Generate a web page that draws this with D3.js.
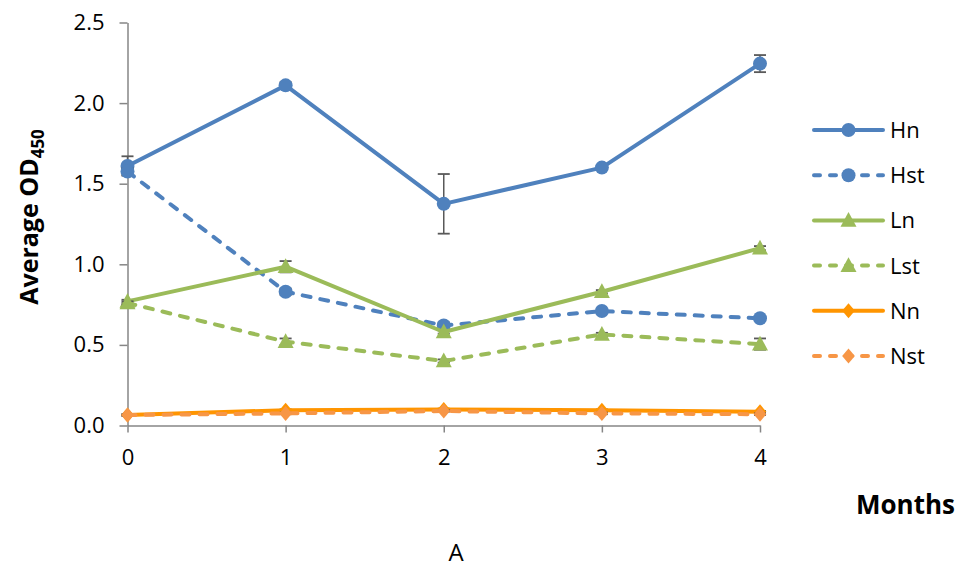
<!DOCTYPE html>
<html><head><meta charset="utf-8">
<script src="https://cdn.jsdelivr.net/npm/d3@7"></script>
<style>body{margin:0;background:#fff}svg{display:block}text{font-family:"Open Sans",Lato,sans-serif}</style>
</head><body>
<svg id="c" width="961" height="581"></svg>
<script>
const months = [0, 1, 2, 3, 4];
const yTicks = [0.0, 0.5, 1.0, 1.5, 2.0, 2.5];
const seriesNames = ["Hn", "Hst", "Ln", "Lst", "Nn", "Nst"];
const Hn  = [1.61, 2.11, 1.375, 1.60, 2.245];
const Hst = [1.575, 0.83, 0.62, 0.71, 0.665];
const Ln  = [0.77, 0.985, 0.58, 0.83, 1.10];
const Lst = [0.76, 0.52, 0.40, 0.565, 0.505];
const Nn  = [0.065, 0.095, 0.10, 0.095, 0.085];
const Nst = [0.065, 0.075, 0.09, 0.075, 0.07];
const HnErr  = [0.06, 0.02, 0.185, 0.01, 0.053];
const HstErr = [0.02, 0.02, 0.02, 0.01, 0.01];
const LnErr  = [0.01, 0.035, 0.01, 0.01, 0.013];
const LstErr = [0.01, 0.02, 0.01, 0.01, 0.035];
const NnErr  = [0.005, 0.005, 0.005, 0.005, 0.005];
const NstErr = [0.005, 0.005, 0.005, 0.005, 0.005];

const styles = {
  Hn:  {color:"#4F81BD", dash:null, marker:"circle"},
  Hst: {color:"#4F81BD", dash:"8,10", marker:"circle"},
  Ln:  {color:"#9BBB59", dash:null, marker:"triangle"},
  Lst: {color:"#9BBB59", dash:"8,10", marker:"triangle"},
  Nn:  {color:"#FF9500", dash:null, marker:"diamond"},
  Nst: {color:"#F79646", dash:"8,10", marker:"diamond"}
};
const values = {Hn, Hst, Ln, Lst, Nn, Nst};
const errs = {Hn:HnErr, Hst:HstErr, Ln:LnErr, Lst:LstErr, Nn:NnErr, Nst:NstErr};

const svg = d3.select("#c");
const x = d3.scaleLinear().domain([0, 4]).range([127.5, 760]);
const y = d3.scaleLinear().domain([0, 2.5]).range([425.5, 22.5]);
const axisColor = "#868686";

// y axis
const ya = svg.append("g").attr("transform", `translate(${x(0)},0)`)
  .call(d3.axisLeft(y).tickValues(yTicks).tickFormat(d3.format(".1f")).tickSize(8).tickSizeOuter(0));
ya.select(".domain").attr("stroke", axisColor).attr("stroke-width", 1.5);
ya.selectAll(".tick line").attr("stroke", axisColor).attr("stroke-width", 1.5);
ya.selectAll(".tick text").attr("font-size", 22).attr("fill", "#000").attr("x", -23).attr("font-family", "Open Sans");

// x axis
const xa = svg.append("g").attr("transform", `translate(0,${y(0)})`)
  .call(d3.axisBottom(x).tickValues(months).tickFormat(d3.format("d")).tickSize(7).tickSizeOuter(0));
xa.select(".domain").attr("stroke", axisColor).attr("stroke-width", 1.5);
xa.selectAll(".tick line").attr("stroke", axisColor).attr("stroke-width", 1.5);
xa.selectAll(".tick text").attr("font-size", 22).attr("fill", "#000").attr("y", 24).attr("font-family", "Open Sans");

function marker(g, type, cx, cy, color, s) {
  if (type === "circle") {
    g.append("circle").attr("cx", cx).attr("cy", cy).attr("r", 7*s).attr("fill", color);
  } else if (type === "triangle") {
    const h = 14*s, w = 16*s;
    g.append("path").attr("d", `M${cx},${cy-h*0.6}L${cx+w/2},${cy+h*0.45}L${cx-w/2},${cy+h*0.45}Z`).attr("fill", color);
  } else {
    const r = 7.5*s;
    g.append("path").attr("d", `M${cx},${cy-r}L${cx+r*0.85},${cy}L${cx},${cy+r}L${cx-r*0.85},${cy}Z`).attr("fill", color);
  }
}

const line = d3.line().x((d,i) => x(months[i])).y(d => y(d));
seriesNames.forEach(name => {
  const st = styles[name], vals = values[name], er = errs[name];
  const g = svg.append("g");
  vals.forEach((v,i) => {
    const cx = x(months[i]);
    const y1 = y(v+er[i]), y2 = y(v-er[i]);
    g.append("line").attr("x1",cx).attr("x2",cx).attr("y1",y1).attr("y2",y2).attr("stroke","#595959").attr("stroke-width",1.5);
    [y1,y2].forEach(yy => g.append("line").attr("x1",cx-6).attr("x2",cx+6).attr("y1",yy).attr("y2",yy).attr("stroke","#595959").attr("stroke-width",1.8));
  });
  g.append("path").attr("d", line(vals)).attr("fill","none").attr("stroke", st.color)
    .attr("stroke-width", 4).attr("stroke-linecap","round").attr("stroke-linejoin","round")
    .attr("stroke-dasharray", st.dash);
  vals.forEach((v,i) => marker(g, st.marker, x(months[i]), y(v), st.color, 1));
});

// legend
const lg = svg.append("g");
seriesNames.forEach((name, i) => {
  const st = styles[name];
  const ly = 130 + i*45.2;
  lg.append("line").attr("x1", 814).attr("x2", 883).attr("y1", ly).attr("y2", ly)
    .attr("stroke", st.color).attr("stroke-width", 4).attr("stroke-linecap","round")
    .attr("stroke-dasharray", st.dash ? "6,10" : null);
  marker(lg, st.marker, 848.5, ly, st.color, 1);
  lg.append("text").attr("x", 890).attr("y", ly + 8).attr("font-size", 22).text(name);
});

// axis titles
const yt = svg.append("text").attr("transform", "translate(38,217) rotate(-90)")
  .attr("text-anchor", "middle").attr("font-size", 25).attr("font-weight", "bold");
yt.append("tspan").text("Average OD");
yt.append("tspan").attr("font-size", 17).attr("dy", 6).text("450");

svg.append("text").attr("x", 955).attr("y", 514).attr("text-anchor", "end")
  .attr("font-size", 26).attr("font-weight", "bold").text("Months");
svg.append("text").attr("x", 456).attr("y", 561).attr("text-anchor", "middle")
  .attr("font-size", 24).text("A");
</script>
</body></html>
